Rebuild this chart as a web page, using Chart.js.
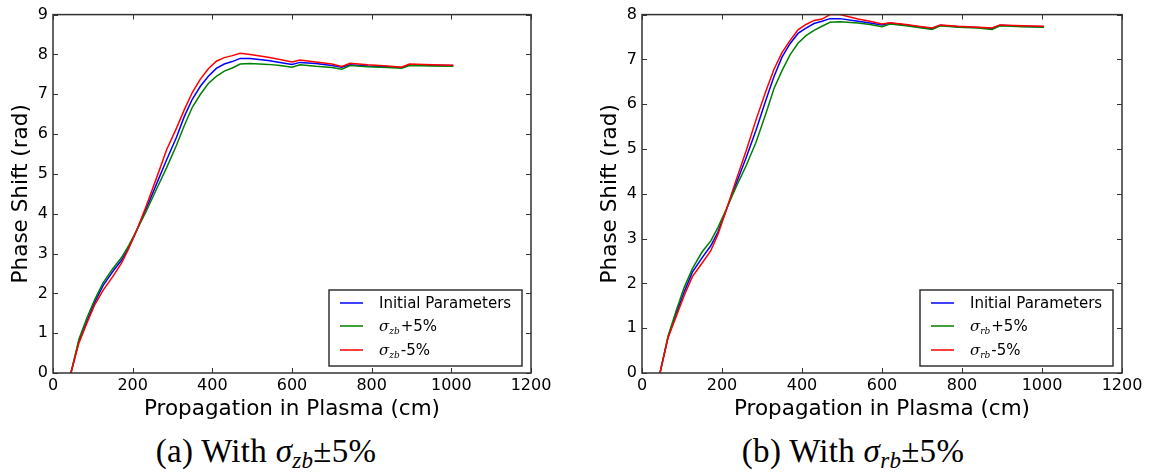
<!DOCTYPE html>
<html>
<head>
<meta charset="utf-8">
<script src="https://cdn.jsdelivr.net/npm/chart.js@4.4.1/dist/chart.umd.min.js"></script>
<style>
  html, body { margin: 0; padding: 0; background: #fff; }
  body { width: 1160px; height: 472px; position: relative; overflow: hidden; }
  canvas { position: absolute; top: 0; }
  .caption {
    position: absolute; top: 433px; line-height: 36px;
    font-family: "Liberation Serif", serif; font-size: 33px; color: #000;
    letter-spacing: 0.3px; white-space: nowrap; transform: translateX(-50%);
  }
  .caption sub { font-size: 23px; line-height: 0; vertical-align: -6px; }
</style>
</head>
<body>
<canvas id="zbChart" width="580" height="430" style="left:0"></canvas>
<canvas id="rbChart" width="571" height="430" style="left:589px"></canvas>
<div class="caption" style="left:266px">(a) With <i>σ</i><sub><i>zb</i></sub>±5%</div>
<div class="caption" style="left:853px">(b) With <i>σ</i><sub><i>rb</i></sub>±5%</div>

<script>
// propagation distance (cm), shared by every curve
const distance = [45, 65, 85, 105, 126, 150, 172, 190, 210, 235, 260, 285, 310, 330, 350, 370, 390, 410,
                  430, 450, 470, 495, 540, 570, 600, 620, 660, 700, 725, 746, 790, 840, 875, 895, 950, 1005];

// phase shift (rad), sigma_zb scan
const zbInitial = [0, 0.8, 1.3, 1.78, 2.2, 2.55, 2.83, 3.15, 3.58, 4.15, 4.75, 5.35, 5.92, 6.45, 6.88, 7.2, 7.45, 7.65,
                   7.76, 7.82, 7.9, 7.9, 7.85, 7.8, 7.75, 7.8, 7.77, 7.72, 7.68, 7.74, 7.71, 7.69, 7.67, 7.74, 7.73, 7.72];
const zbPlus = [0, 0.85, 1.38, 1.85, 2.27, 2.62, 2.9, 3.2, 3.58, 4.08, 4.62, 5.15, 5.72, 6.22, 6.68, 7.0, 7.27, 7.45,
                7.58, 7.66, 7.76, 7.77, 7.75, 7.72, 7.68, 7.74, 7.7, 7.67, 7.63, 7.72, 7.69, 7.67, 7.65, 7.72, 7.71, 7.7];
const zbMinus = [0, 0.75, 1.25, 1.72, 2.08, 2.42, 2.76, 3.12, 3.58, 4.22, 4.9, 5.6, 6.15, 6.62, 7.05, 7.38, 7.64, 7.83,
                 7.92, 7.97, 8.03, 8.0, 7.93, 7.87, 7.81, 7.86, 7.81, 7.76, 7.7, 7.78, 7.74, 7.71, 7.68, 7.76, 7.74, 7.73];

// phase shift (rad), sigma_rb scan
const rbInitial = [0, 0.8, 1.32, 1.8, 2.25, 2.57, 2.84, 3.15, 3.62, 4.22, 4.8, 5.42, 6.1, 6.62, 7.05, 7.35, 7.58, 7.7,
                   7.8, 7.85, 7.91, 7.91, 7.85, 7.81, 7.77, 7.81, 7.77, 7.72, 7.69, 7.76, 7.73, 7.71, 7.69, 7.76, 7.74, 7.73];
const rbPlus = [0, 0.82, 1.38, 1.9, 2.33, 2.7, 2.95, 3.25, 3.64, 4.15, 4.62, 5.15, 5.8, 6.35, 6.75, 7.1, 7.36, 7.53,
                7.65, 7.74, 7.83, 7.84, 7.81, 7.78, 7.73, 7.79, 7.75, 7.7, 7.67, 7.75, 7.72, 7.7, 7.67, 7.75, 7.73, 7.72];
const rbMinus = [0, 0.78, 1.25, 1.72, 2.15, 2.45, 2.73, 3.1, 3.62, 4.3, 4.95, 5.65, 6.3, 6.78, 7.15, 7.42, 7.66, 7.78,
                 7.87, 7.9, 8.0, 8.0, 7.9, 7.85, 7.79, 7.82, 7.78, 7.73, 7.7, 7.77, 7.74, 7.72, 7.7, 7.77, 7.75, 7.74];

const xMax = 1200, xStep = 200;
const xTitle = 'Propagation in Plasma (cm)';
const yTitle = 'Phase Shift (rad)';
const colors = ['#0000ff', '#008000', '#ff0000'];

const SANS = 'DejaVu Sans';
const SERIF = 'DejaVu Serif';

// frame with inward ticks on all four sides
const framePlugin = {
    id: 'frame',
    afterDatasetsDraw(chart) {
        const { ctx, chartArea: a, scales: { x, y } } = chart;
        ctx.save();
        ctx.strokeStyle = '#333';
        ctx.lineWidth = 1;
        ctx.beginPath();
        x.ticks.forEach(t => {
            const px = Math.round(x.getPixelForValue(t.value)) + 0.5;
            ctx.moveTo(px, a.bottom); ctx.lineTo(px, a.bottom - 5);
            ctx.moveTo(px, a.top); ctx.lineTo(px, a.top + 5);
        });
        y.ticks.forEach(t => {
            const py = Math.round(y.getPixelForValue(t.value)) + 0.5;
            ctx.moveTo(a.left, py); ctx.lineTo(a.left + 5, py);
            ctx.moveTo(a.right, py); ctx.lineTo(a.right - 5, py);
        });
        ctx.stroke();
        ctx.lineWidth = 1.5;
        ctx.strokeRect(a.left, a.top, a.right - a.left, a.bottom - a.top);
        ctx.restore();
    }
};

// boxed legend in the lower right corner of the plot
const boxLegend = {
    id: 'boxLegend',
    afterDraw(chart, args, opts) {
        const { ctx, chartArea: a } = chart;
        const w = 193, h = 76;
        const x0 = a.right - 9 - w, y0 = a.bottom - 7 - h;
        const rows = [13, 36, 60];
        ctx.save();
        ctx.fillStyle = '#fff';
        ctx.fillRect(x0, y0, w, h);
        ctx.strokeStyle = '#333';
        ctx.lineWidth = 1.5;
        ctx.strokeRect(x0, y0, w, h);
        ctx.textBaseline = 'alphabetic';
        chart.data.datasets.forEach((ds, i) => {
            const ry = y0 + rows[i];
            ctx.strokeStyle = ds.borderColor;
            ctx.lineWidth = 1.5;
            ctx.beginPath();
            ctx.moveTo(x0 + 11, ry);
            ctx.lineTo(x0 + 34, ry);
            ctx.stroke();
            let tx = x0 + 50;
            ctx.fillStyle = '#000';
            opts.labels[i].forEach(part => {
                ctx.font = part.font;
                ctx.fillText(part.text, tx, ry + 5 + (part.dy || 0));
                tx += ctx.measureText(part.text).width + (part.gap || 0);
            });
        });
        ctx.restore();
    }
};

function sigmaLabel(sub, rest) {
    return [
        { text: 'σ', font: `italic 15px "${SERIF}"` },
        { text: sub, font: `italic 9px "${SERIF}"`, dy: 3, gap: 1 },
        { text: rest, font: `15px "${SANS}"` }
    ];
}

function drawPanel(id, series, yMax, sub, padTop, padRight) {
    const tickFont = { family: SANS, size: 16 };
    const titleFont = { family: SANS, size: 21.5 };
    const plain = v => String(v);
    new Chart(document.getElementById(id), {
        type: 'line',
        data: {
            datasets: series.map((values, k) => ({
                data: distance.map((d, i) => ({ x: d, y: values[i] })),
                borderColor: colors[k],
                borderWidth: 1.5,
                pointRadius: 0,
                tension: 0,
                order: 2 - k
            }))
        },
        options: {
            responsive: false,
            animation: false,
            events: [],
            layout: { padding: { top: padTop, right: padRight, left: 0, bottom: 0 } },
            plugins: {
                legend: { display: false },
                tooltip: { enabled: false },
                boxLegend: {
                    labels: [
                        [{ text: 'Initial Parameters', font: `15px "${SANS}"` }],
                        sigmaLabel(sub, '+5%'),
                        sigmaLabel(sub, '-5%')
                    ]
                }
            },
            scales: {
                x: {
                    type: 'linear', min: 0, max: xMax,
                    ticks: { stepSize: xStep, padding: 3, color: '#000', font: tickFont, maxRotation: 0, autoSkip: false, callback: plain },
                    grid: { display: false, drawTicks: false },
                    border: { display: false },
                    title: { display: true, text: xTitle, color: '#000', font: titleFont, padding: { top: 0, bottom: 8 } },
                    afterFit(s) { s.height = 57; }
                },
                y: {
                    type: 'linear', min: 0, max: yMax,
                    ticks: { stepSize: 1, padding: 5, color: '#000', font: tickFont, callback: plain },
                    grid: { display: false, drawTicks: false },
                    border: { display: false },
                    title: { display: true, text: yTitle, color: '#000', font: titleFont, padding: { top: 9, bottom: 0 } },
                    afterFit(s) { s.width = 53; }
                }
            }
        },
        plugins: [framePlugin, boxLegend]
    });
}

drawPanel('zbChart', [zbInitial, zbPlus, zbMinus], 9, 'zb', 6, 49);
drawPanel('rbChart', [rbInitial, rbPlus, rbMinus], 8, 'rb', 7, 38);
</script>
</body>
</html>
